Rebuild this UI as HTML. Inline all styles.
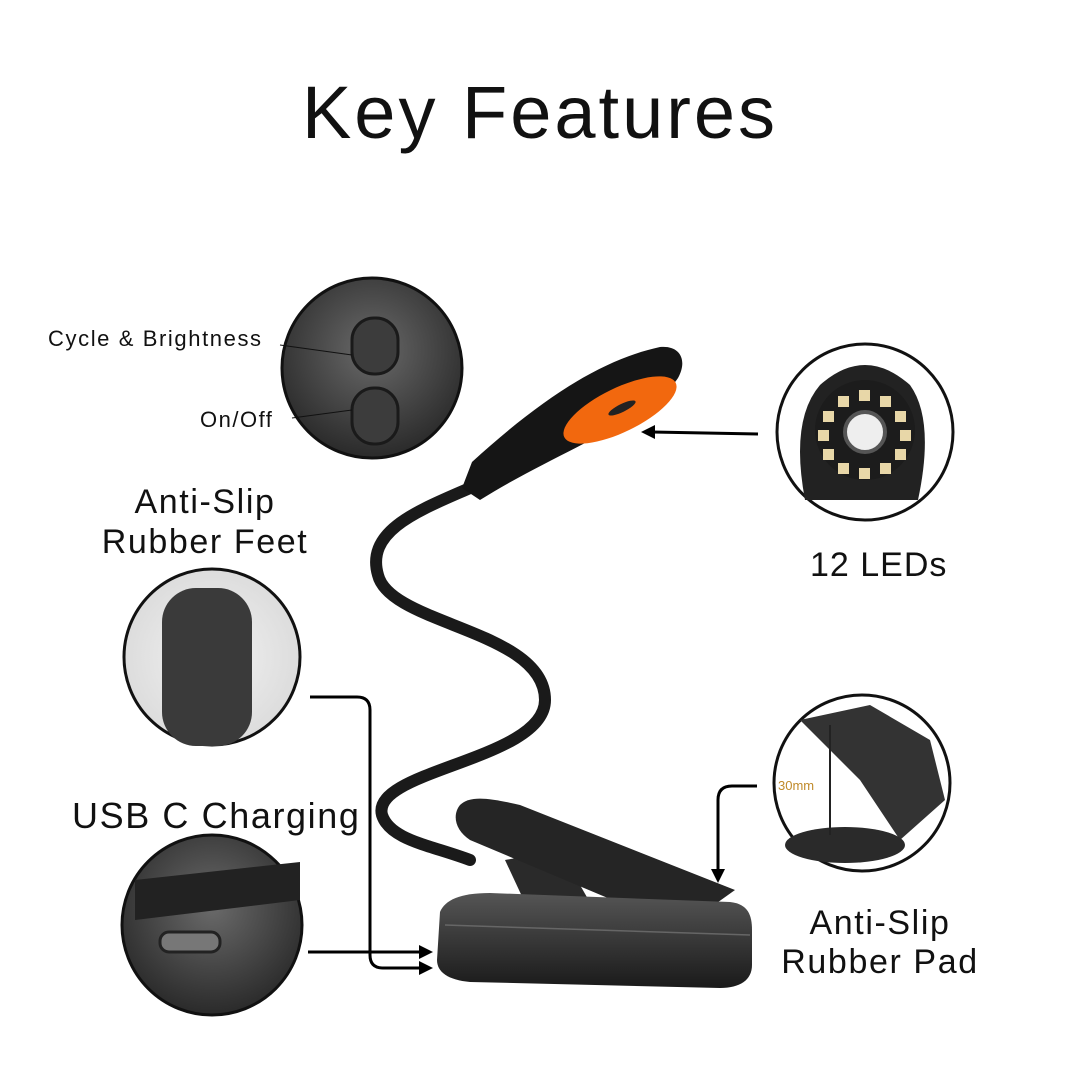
<!DOCTYPE html>
<html><head><meta charset="utf-8"><style>
html,body{margin:0;padding:0;background:#fff}
body{width:1080px;height:1080px;position:relative;overflow:hidden;font-family:"Liberation Sans",sans-serif;color:#111}
.t{position:absolute;white-space:nowrap}
</style></head><body>
<svg width="1080" height="1080" style="position:absolute;left:0;top:0">
<defs>
<radialGradient id="g1" cx="50%" cy="40%" r="60%"><stop offset="0" stop-color="#6a6a6a"/><stop offset="1" stop-color="#2a2a2a"/></radialGradient>
<radialGradient id="g2" cx="50%" cy="50%" r="60%"><stop offset="0" stop-color="#f2f2f2"/><stop offset="1" stop-color="#d8d8d8"/></radialGradient>
<linearGradient id="g3" x1="0" y1="0" x2="0" y2="1"><stop offset="0" stop-color="#555"/><stop offset="1" stop-color="#1a1a1a"/></linearGradient>
</defs>
<circle cx="372" cy="368" r="90" fill="url(#g1)" stroke="#111" stroke-width="3"/>
<rect x="352" y="318" width="46" height="56" rx="22" fill="#3c3c3c" stroke="#1a1a1a" stroke-width="3"/>
<rect x="352" y="388" width="46" height="56" rx="22" fill="#3c3c3c" stroke="#1a1a1a" stroke-width="3"/>
<line x1="280" y1="345" x2="352" y2="355" stroke="#111" stroke-width="1"/>
<line x1="292" y1="418" x2="352" y2="410" stroke="#111" stroke-width="1"/>
<circle cx="865" cy="432" r="88" fill="#fff" stroke="#111" stroke-width="3"/>
<path d="M805,500 Q790,420 820,385 Q865,345 910,385 Q935,420 918,500 Z" fill="#222"/>
<circle cx="865" cy="430" r="50" fill="#1c1c1c"/>
<circle cx="865" cy="432" r="20" fill="#eee" stroke="#555" stroke-width="4"/>
<g fill="#e8d7a8">
<rect x="859" y="390" width="11" height="11"/><rect x="880" y="396" width="11" height="11"/><rect x="895" y="411" width="11" height="11"/><rect x="900" y="430" width="11" height="11"/><rect x="895" y="449" width="11" height="11"/><rect x="880" y="463" width="11" height="11"/><rect x="859" y="468" width="11" height="11"/><rect x="838" y="463" width="11" height="11"/><rect x="823" y="449" width="11" height="11"/><rect x="818" y="430" width="11" height="11"/><rect x="823" y="411" width="11" height="11"/><rect x="838" y="396" width="11" height="11"/>
</g>
<circle cx="212" cy="657" r="88" fill="url(#g2)" stroke="#111" stroke-width="3"/>
<rect x="162" y="588" width="90" height="158" rx="34" fill="#3a3a3a"/>
<circle cx="212" cy="925" r="90" fill="url(#g1)" stroke="#111" stroke-width="3"/>
<path d="M135,880 L300,862 L300,900 L135,920Z" fill="#222"/>
<rect x="160" y="932" width="60" height="20" rx="9" fill="#777" stroke="#222" stroke-width="3"/>
<circle cx="862" cy="783" r="88" fill="#fff" stroke="#111" stroke-width="3"/>
<path d="M800,720 L870,705 L930,740 L945,800 L900,840 L860,780 Z" fill="#333"/>
<ellipse cx="845" cy="845" rx="60" ry="18" fill="#2a2a2a"/>
<line x1="830" y1="725" x2="830" y2="835" stroke="#222" stroke-width="2"/>
<text x="778" y="790" font-size="13" fill="#c08a2a" font-family="Liberation Sans">30mm</text>
<path d="M470,488 C420,510 365,530 378,575 C390,625 545,630 545,700 C545,760 370,770 382,815 C390,840 430,845 470,860" fill="none" stroke="#1a1a1a" stroke-width="12" stroke-linecap="round"/>
<path d="M462,488 L472,462 C540,400 600,360 660,347 C680,345 688,360 678,378 C650,420 560,450 480,500 Z" fill="#151515"/>
<ellipse cx="620" cy="410" rx="62" ry="22" transform="rotate(-26 620 410)" fill="#f2680e"/>
<ellipse cx="622" cy="408" rx="15" ry="4" transform="rotate(-26 622 408)" fill="#222"/>
<path d="M505,860 L560,850 L600,920 L540,935 Z" fill="#2a2a2a"/>
<path d="M460,805 C470,795 490,798 520,805 L735,890 L700,915 L660,920 L470,840 C455,830 452,815 460,805Z" fill="#252525"/>
<path d="M440,912 C445,900 460,893 490,893 L730,902 C748,904 752,915 752,930 L752,965 C752,980 740,988 720,988 L470,982 C448,980 437,972 437,960 Z" fill="url(#g3)"/>
<path d="M445,925 L750,935" stroke="#666" stroke-width="1.5"/>
<g stroke="#000" stroke-width="3" fill="none">
<line x1="758" y1="434" x2="652" y2="432"/>
<path d="M310,697 L357,697 Q370,697 370,710 L370,955 Q370,968 383,968 L422,968"/>
<line x1="308" y1="952" x2="422" y2="952"/>
<path d="M757,786 L732,786 Q718,786 718,800 L718,870"/>
</g>
<g fill="#000">
<path d="M641,432 L655,425 L655,439Z"/>
<path d="M433,968 L419,961 L419,975Z"/>
<path d="M433,952 L419,945 L419,959Z"/>
<path d="M718,883 L711,869 L725,869Z"/>
</g>
</svg>
<div class="t" style="left:0;width:1080px;text-align:center;top:70px;font-size:74px;letter-spacing:3px;">Key Features</div>
<div class="t" style="left:48px;top:326px;font-size:22px;letter-spacing:1.6px;">Cycle &amp; Brightness</div>
<div class="t" style="left:200px;top:407px;font-size:22px;letter-spacing:1.5px;">On/Off</div>
<div class="t" style="left:810px;top:546px;font-size:34px;letter-spacing:1px;">12 LEDs</div>
<div class="t" style="left:60px;width:290px;text-align:center;top:482px;font-size:34px;line-height:40px;letter-spacing:1.6px;">Anti-Slip<br>Rubber Feet</div>
<div class="t" style="left:72px;top:795px;font-size:36px;letter-spacing:1.6px;">USB C Charging</div>
<div class="t" style="left:760px;width:240px;text-align:center;top:904px;font-size:34px;line-height:39px;letter-spacing:1.6px;">Anti-Slip<br>Rubber Pad</div>
</body></html>
